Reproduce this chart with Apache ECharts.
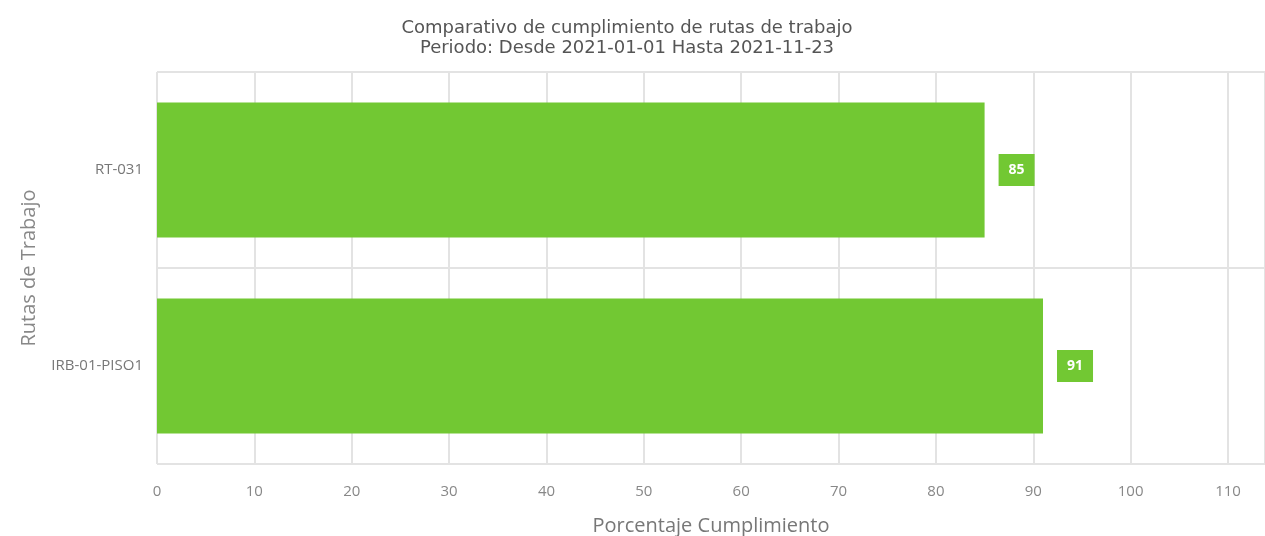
<!DOCTYPE html>
<html><head><meta charset="utf-8">
<script src="https://cdn.jsdelivr.net/npm/echarts@6/dist/echarts.min.js"></script>
<style>html,body{margin:0;padding:0;background:#fff}#c{width:1265px;height:536px}</style>
</head><body><div id="c"></div>
<script>
const categories = ['IRB-01-PISO1', 'RT-031'];
const values = [91, 85];
const xTicks = [0, 10, 20, 30, 40, 50, 60, 70, 80, 90, 100, 110];
const titleLines = ['Comparativo de cumplimiento de rutas de trabajo', 'Periodo: Desde 2021-01-01 Hasta 2021-11-23'];

const chart = echarts.init(document.getElementById('c'));
const font = '"Open Sans", "Noto Sans", sans-serif';
chart.setOption({
  animation: false,
  title: {
    text: titleLines.join('\n'),
    left: 622, top: 13, textAlign: 'center',
    textStyle: { fontFamily: 'DejaVu Sans', fontWeight: 'normal', fontSize: 18, color: '#555', lineHeight: 20 }
  },
  grid: { left: 157, right: 0, top: 72, bottom: 72, containLabel: false, outerBoundsMode: 'none' },
  xAxis: {
    type: 'value', min: 0, max: 113.8, interval: 10,
    name: 'Porcentaje Cumplimiento', nameLocation: 'middle', nameGap: 52,
    nameTextStyle: { fontFamily: font, fontSize: 20, color: '#777' },
    axisLine: { show: false }, axisTick: { show: false },
    axisLabel: { margin: 20, fontFamily: font, fontSize: 15, color: '#888', showMaxLabel: false,
      formatter: v => xTicks.includes(v) ? String(v) : '' },
    splitLine: { show: true, lineStyle: { color: '#e3e3e3', width: 2 } }
  },
  yAxis: {
    type: 'category', data: categories,
    name: 'Rutas de Trabajo', nameLocation: 'middle', nameGap: 118, nameRotate: 90,
    nameTextStyle: { fontFamily: font, fontSize: 20, color: '#888' },
    axisLine: { show: false }, axisTick: { show: false },
    axisLabel: { margin: 14, fontFamily: font, fontSize: 15, color: '#777' },
    splitLine: { show: true, lineStyle: { color: '#e3e3e3', width: 2 } }
  },
  series: [{
    type: 'bar', data: values, barWidth: '69%',
    itemStyle: { color: '#72c833' },
    label: {
      show: true, position: 'right', distance: 14,
      backgroundColor: '#72c833', color: '#fff', fontWeight: 'bold',
      fontFamily: font, fontSize: 14, padding: [9, 10, 9, 10]
    }
  }]
});
</script></body></html>
